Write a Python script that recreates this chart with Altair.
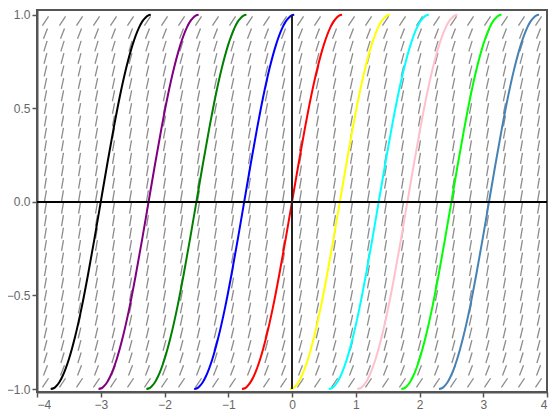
import math
import altair as alt
import pandas as pd

# ---- data ----
x_ticks = [-4, -3, -2, -1, 0, 1, 2, 3, 4]
y_ticks = [-1.0, -0.5, 0.0, 0.5, 1.0]

curve_names = ["c1", "c2", "c3", "c4", "c5", "c6", "c7", "c8", "c9", "c10"]
curve_colors = ["black", "purple", "green", "blue", "red", "yellow", "cyan", "pink", "lime", "steelblue"]
curve_centers = [-3.0, -2.25, -1.5, -0.75, 0.0, 0.75, 1.36, 1.81, 2.5, 3.09]

# shape of one solution curve: x offset from its centre, y value
base_offsets = [-0.785, -0.74, -0.70, -0.65, -0.60, -0.50, -0.40, -0.30, -0.20, -0.10, 0.0,
                0.10, 0.20, 0.30, 0.40, 0.50, 0.60, 0.65, 0.70, 0.74, 0.785]
base_values = [-1.0, -0.996, -0.985, -0.964, -0.932, -0.841, -0.717, -0.565, -0.389, -0.199, 0.0,
               0.199, 0.389, 0.565, 0.717, 0.841, 0.932, 0.964, 0.985, 0.996, 1.0]

# slope-field grid (cell centres) and dash angle (degrees on screen) per row, upper half
field_x = [-3.867, -3.600, -3.333, -3.067, -2.800, -2.533, -2.267, -2.000, -1.733, -1.467,
           -1.200, -0.933, -0.667, -0.400, -0.133, 0.133, 0.400, 0.667, 0.933, 1.200,
           1.467, 1.733, 2.000, 2.267, 2.533, 2.800, 3.067, 3.333, 3.600, 3.867]
field_y_upper = [0.033, 0.100, 0.167, 0.233, 0.300, 0.367, 0.433, 0.500, 0.567, 0.633,
                 0.700, 0.767, 0.833, 0.900, 0.967]
dash_angle_upper = [80.3, 80.3, 80.2, 80.1, 79.9, 79.6, 79.3, 78.9, 78.3, 77.6,
                    76.6, 75.1, 72.9, 68.7, 56.2]

zero_h = {"x": -4.0, "x2": 4.0, "y": 0.0}
zero_v = {"x": 0.0, "y": -1.0, "y2": 1.0}

# ---- layout ----
PAD = {"left": 29, "top": 2, "right": 4, "bottom": 18}
W = 543 - PAD["left"] - PAD["right"]
H = 402 - PAD["top"] - PAD["bottom"]
x_dom = [-4.0, 4.0]
y_dom = [-1.016, 1.026]
px_x = W / (x_dom[1] - x_dom[0])
px_y = H / (y_dom[1] - y_dom[0])
half_len = 5.5

# ---- tables ----
rows = []
for yv, ang in zip(field_y_upper, dash_angle_upper):
    for sign in (1, -1):
        y = sign * yv
        a = math.radians(ang)
        dx = half_len * math.cos(a) / px_x
        dy = half_len * math.sin(a) / px_y
        for x in field_x:
            rows.append({"x": x - dx, "x2": x + dx, "y": y - dy, "y2": y + dy})
field_df = pd.DataFrame(rows)

crows = []
for name, c in zip(curve_names, curve_centers):
    for i, (o, v) in enumerate(zip(base_offsets, base_values)):
        crows.append({"curve": name, "i": i, "x": c + o, "y": v})
curve_df = pd.DataFrame(crows)

xscale = alt.Scale(domain=x_dom, nice=False, zero=False)
yscale = alt.Scale(domain=y_dom, nice=False, zero=False)
xaxis = alt.Axis(values=x_ticks, format="d", title=None, grid=False)
yaxis = alt.Axis(values=y_ticks, format=".1f", title=None, grid=False)

dashes = alt.Chart(field_df).mark_rule(color="#8c8c8c", strokeWidth=1.3).encode(
    x=alt.X("x:Q", scale=xscale, axis=xaxis),
    x2="x2:Q",
    y=alt.Y("y:Q", scale=yscale, axis=yaxis),
    y2="y2:Q",
)

curves = alt.Chart(curve_df).mark_line(strokeWidth=2, interpolate="monotone", clip=False).encode(
    x=alt.X("x:Q", scale=xscale, axis=xaxis),
    y=alt.Y("y:Q", scale=yscale, axis=yaxis),
    color=alt.Color("curve:N", scale=alt.Scale(domain=curve_names, range=curve_colors), legend=None),
    order=alt.Order("i:Q"),
)

hline = alt.Chart(pd.DataFrame([zero_h])).mark_rule(color="black", strokeWidth=2).encode(
    x=alt.X("x:Q", scale=xscale, axis=xaxis),
    x2="x2:Q",
    y=alt.Y("y:Q", scale=yscale, axis=yaxis),
)
vline = alt.Chart(pd.DataFrame([zero_v])).mark_rule(color="#222", strokeWidth=2).encode(
    x=alt.X("x:Q", scale=xscale, axis=xaxis),
    y=alt.Y("y:Q", scale=yscale, axis=yaxis),
    y2="y2:Q",
)

chart = alt.layer(dashes, curves, hline, vline).properties(
    width=W, height=H,
    autosize=alt.AutoSizeParams(type="none"),
    padding=PAD,
).configure_view(
    stroke="#555", strokeWidth=2
).configure_axis(
    domainColor="#555", domainWidth=2, tickColor="#555", tickSize=5, tickWidth=1.5,
    labelColor="#666", labelFontSize=12, labelFont="Liberation Sans", labelPadding=2,
)

chart.save("out.html", embed_options={"renderer": "svg", "actions": False})
